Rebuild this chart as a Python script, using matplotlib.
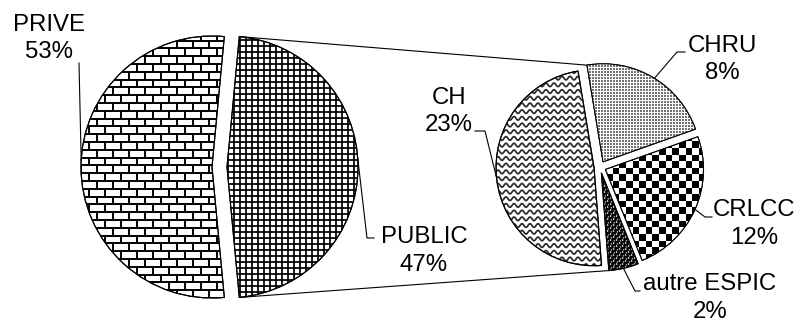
import numpy as np
import matplotlib.pyplot as plt
from matplotlib.collections import LineCollection, PatchCollection
from matplotlib.patches import Circle, Wedge

plt.rcParams['font.family'] = ['Liberation Sans', 'DejaVu Sans']

# data
left_labels = ['PRIVE', 'PUBLIC']
left_pct = [53, 47]
right_labels = ['CHRU', 'CH', 'autre ESPIC', 'CRLCC']
right_pct = [8, 23, 2, 12]
# size of each slice in the second pie, as drawn (% of that pie)
right_share = [22.2, 48.6, 4.9, 24.3]

W, H = 805, 323
fig = plt.figure(figsize=(W / 100, H / 100), dpi=100)
ax = fig.add_axes([0, 0, 1, 1])


def py(y):
    # pixel row -> data y (axes are 1 unit = 1 px)
    return H - y


wp = dict(facecolor='white', edgecolor='black', linewidth=0.8)
# explode is an offset in data units here (1 unit = 1 px)
wl, _ = ax.pie(left_pct, center=(212, py(167)), radius=131,
               startangle=180 - left_pct[0] / 100 * 180,
               explode=[0, 15], wedgeprops=wp)
wr, _ = ax.pie(right_share, center=(600, py(167)), radius=98,
               startangle=19.5, explode=[6] * 4, wedgeprops=wp)


def bbox(w):
    cx, cy = w.center
    return cx - w.r, cy - w.r, cx + w.r, cy + w.r


def add_clipped(art, w):
    art.set_zorder(2)
    art.set_clip_path(w)


def bricks(w, h=7.8, bw=16):
    x0, y0, x1, y1 = bbox(w)
    segs = []
    for k, y in enumerate(np.arange(y0, y1 + h, h)):
        segs.append([(x0, y), (x1, y)])
        off = (k % 2) * bw / 2
        for x in np.arange(x0 - bw + off, x1 + bw, bw):
            segs.append([(x, y), (x, y + h)])
    lc = LineCollection(segs, colors='black', linewidths=1.4)
    ax.add_collection(lc)
    add_clipped(lc, w)


def grid(w, s=6.0):
    x0, y0, x1, y1 = bbox(w)
    segs = [[(x0, y), (x1, y)] for y in np.arange(y0, y1 + s, s)]
    segs += [[(x, y0), (x, y1)] for x in np.arange(x0, x1 + s, s)]
    lc = LineCollection(segs, colors='black', linewidths=1.25)
    ax.add_collection(lc)
    add_clipped(lc, w)


def waves(w, s=6.7, lam=8.0, amp=1.8):
    x0, y0, x1, y1 = bbox(w)
    xs = np.arange(x0, x1, 0.5)
    segs = [np.column_stack([xs, y + amp * np.sin(2 * np.pi * xs / lam)])
            for y in np.arange(y0, y1 + s, s)]
    lc = LineCollection(segs, colors='#2a2a2a', linewidths=1.25)
    ax.add_collection(lc)
    add_clipped(lc, w)


def checker(w, s=6.6):
    x0, y0, x1, y1 = bbox(w)
    n = int((x1 - x0) / s) + 2
    img = np.add.outer(np.arange(n), np.arange(n)) % 2
    im = ax.imshow(img, cmap='gray', interpolation='nearest',
                   extent=(x0, x0 + n * s, y0, y0 + n * s))
    add_clipped(im, w)


def dots(w):
    x0, y0, x1, y1 = bbox(w)
    x0, y0 = np.floor(x0), np.floor(y0)
    n = int(x1 - x0) + 2
    i, j = np.indices((n, n))
    img = np.where((i % 3 == 2) | (j % 3 == 2), 1.0, 0.45)
    im = ax.imshow(img, cmap='gray', vmin=0, vmax=1, interpolation='nearest',
                   extent=(x0, x0 + n, y0, y0 + n))
    add_clipped(im, w)


def spheres(w, s=6.0):
    x0, y0, x1, y1 = bbox(w)
    dark, light = [], []
    for k, y in enumerate(np.arange(y0, y1 + s, s / 2)):
        for x in np.arange(x0 + (k % 2) * s / 2, x1 + s, s):
            dark.append(Circle((x, y), 2.5))
            light.append(Circle((x - 0.8, y + 0.8), 0.8))
    pc = PatchCollection(dark, facecolor='black', edgecolor='none')
    ax.add_collection(pc)
    add_clipped(pc, w)
    pc2 = PatchCollection(light, facecolor='white', edgecolor='none')
    ax.add_collection(pc2)
    add_clipped(pc2, w)


bricks(wl[0])
grid(wl[1])
dots(wr[0])
waves(wr[1])
spheres(wr[2])
checker(wr[3])

# outlines on top of the patterns
for w in list(wl) + list(wr):
    ax.add_patch(Wedge(w.center, w.r, w.theta1, w.theta2, fill=False,
                       edgecolor='black', linewidth=0.8, zorder=3))


def on_arc(w, ang):
    a = np.deg2rad(ang)
    return w.center[0] + w.r * np.cos(a), w.center[1] + w.r * np.sin(a)


# connector lines between the two pies
for a_l, w_r, a_r in [(wl[1].theta2, wr[0], wr[0].theta2),
                      (wl[1].theta1, wr[2], wr[2].theta1)]:
    p = on_arc(wl[1], a_l)
    q = on_arc(w_r, a_r)
    ax.plot([p[0], q[0]], [p[1], q[1]], color='black', lw=0.8, zorder=3)

# labels: (wedge, leader angle, leader path in px, text centre in px, text)
labels = [
    (wl[0], 177, [(79, 63)], (49, 38.5), f'{left_labels[0]}\n{left_pct[0]}%'),
    (wl[1], 4, [(367, 238), (374, 238)], (424, 251), f'{left_labels[1]}\n{left_pct[1]}%'),
    (wr[0], 58.4, [(677, 52), (685, 52)], (722, 59.5), f'{right_labels[0]}\n{right_pct[0]}%'),
    (wr[1], 185.8, [(485, 131), (475, 131)], (449, 111.5), f'{right_labels[1]}\n{right_pct[1]}%'),
    (wr[2], 283, [(635, 291), (640, 291)], (710, 298), f'{right_labels[2]}\n{right_pct[2]}%'),
    (wr[3], 336, [(705, 217), (712, 217)], (754, 224), f'{right_labels[3]}\n{right_pct[3]}%'),
]
for w, ang, path, (tx, ty), txt in labels:
    p = on_arc(w, ang)
    xs = [p[0]] + [x for x, _ in path]
    ys = [p[1]] + [py(y) for _, y in path]
    ax.plot(xs, ys, color='black', lw=0.8, zorder=3)
    ax.text(tx, py(ty), txt, ha='center', va='center', multialignment='center',
            fontsize=17.3, linespacing=1.3, color='black')

ax.set_xlim(0, W)
ax.set_ylim(0, H)
ax.set_aspect('equal')
ax.axis('off')

fig.savefig('out.png', dpi=100)
